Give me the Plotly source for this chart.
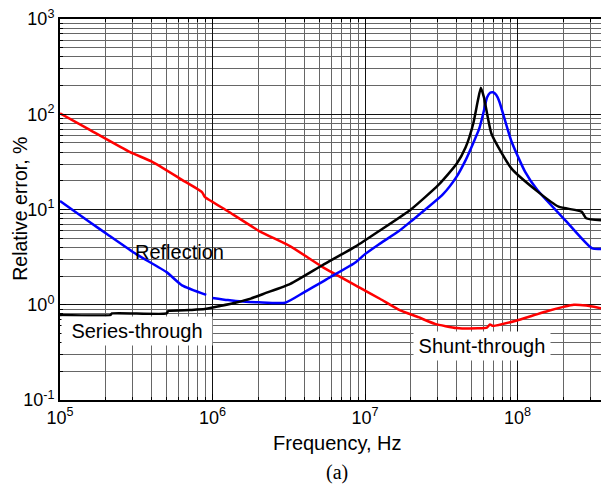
import plotly.graph_objects as go

# Shunt-through (red)
shunt_f = [1e5, 1.58e5, 2.88e5, 3.98e5, 6.31e5, 8.5e5, 8.7e5, 8.9e5, 1.26e6, 2.04e6,
           3.24e6, 5.25e6, 9.55e6, 1.26e7, 1.66e7, 2.24e7, 2.88e7, 3.98e7, 5.5e7, 6.3e7,
           6.6e7, 6.9e7, 9.77e7, 1.26e8, 1.58e8, 2.0e8, 2.34e8, 2.82e8, 3.39e8, 4.0e8]
shunt_v = [102, 68, 40, 32, 20.5, 15.3, 14.5, 13.6, 9.6, 5.9,
           4.1, 2.5, 1.47, 1.15, 0.89, 0.74, 0.63, 0.57, 0.565, 0.575,
           0.62, 0.6, 0.68, 0.77, 0.86, 0.95, 1.0, 0.98, 0.93, 0.88]

# Reflection (blue) - two segments separated by a gap
refl_f = [1e5, 1.58e5, 2.04e5, 3.16e5, 5.0e5, 6.31e5, 9.1e5, None,
          1.0e6, 1.26e6, 1.58e6, 2.0e6, 3.0e6, 3.98e6, 5.25e6, 5.75e6, 8.7e6, 1.0e7,
          1.23e7, 1.66e7, 2.0e7, 3.24e7, 3.98e7, 4.57e7, 5.13e7, 5.62e7, 6.03e7, 6.31e7,
          6.61e7, 6.92e7, 7.24e7, 7.59e7, 9.12e7, 1.12e8, 1.35e8, 2.09e8, 3.09e8, 4.0e8]
refl_v = [12.3, 7.3, 5.5, 3.4, 2.2, 1.6, 1.27, None,
          1.18, 1.12, 1.08, 1.06, 1.05, 1.35, 1.74, 1.9, 2.8, 3.4,
          4.3, 5.9, 7.5, 14.4, 22, 33, 50, 71, 110, 150,
          168, 170, 160, 137, 52, 25, 16, 7.5, 3.9, 3.9]

# Series-through (black)
series_f = [1e5, 2.14e5, 2.19e5, 5.0e5, 5.13e5, 7.08e5, 8.9e5, 1.12e6, 1.41e6, 1.78e6,
            2.24e6, 3.24e6, 5.25e6, 8.7e6, 1.23e7, 2.0e7, 3.02e7, 3.98e7, 4.57e7, 5.13e7,
            5.5e7, 5.75e7, 6.03e7, 6.76e7, 9.12e7, 1.35e8, 1.86e8, 2.63e8, 2.82e8, 4.0e8]
series_v = [0.78, 0.78, 0.81, 0.81, 0.86, 0.88, 0.9, 0.97, 1.05, 1.16,
            1.33, 1.66, 2.6, 4.1, 5.9, 10, 18, 30, 45, 80,
            140, 190, 150, 62, 27, 15.5, 10.7, 9.5, 8.1, 7.6]

x_tickvals = [1e5, 1e6, 1e7, 1e8]
x_ticktext = ["10<sup>5</sup>", "10<sup>6</sup>", "10<sup>7</sup>", "10<sup>8</sup>"]
y_tickvals = [0.1, 1, 10, 100, 1000]
y_ticktext = ["10<sup>-1</sup>", "10<sup>0</sup>", "10<sup>1</sup>", "10<sup>2</sup>", "10<sup>3</sup>"]

FONT = "Arial, Liberation Sans, sans-serif"

fig = go.Figure()
line_shape = dict(shape="spline", smoothing=0.5)
fig.add_trace(go.Scatter(x=shunt_f, y=shunt_v, mode="lines",
                         line=dict(color="#ff0000", width=2.5, **line_shape)))
fig.add_trace(go.Scatter(x=refl_f, y=refl_v, mode="lines", connectgaps=False,
                         line=dict(color="#0000ff", width=2.5, **line_shape)))
fig.add_trace(go.Scatter(x=series_f, y=series_v, mode="lines",
                         line=dict(color="#000000", width=2.5, **line_shape)))

axis_common = dict(
    type="log", tickmode="array", automargin=False, ticklabeloverflow="allow",
    showgrid=True, gridcolor="#111111", gridwidth=1,
    ticks="inside", ticklen=6, tickcolor="black", tickwidth=1,
    showline=True, linecolor="black", linewidth=2, mirror="allticks",
    zeroline=False,
    tickfont=dict(family=FONT, size=18, color="black"),
    minor=dict(dtick="D1", ticks="inside", ticklen=3, tickcolor="black",
               showgrid=True, gridcolor="#666666", gridwidth=1),
)

fig.update_xaxes(range=[5, 8.6], tickvals=x_tickvals, ticktext=x_ticktext, **axis_common)
fig.update_yaxes(range=[-1, 3], tickvals=y_tickvals, ticktext=y_ticktext, **axis_common)

def ann(text, x, y, size=20, family=FONT, **kw):
    return dict(text=text, x=x, y=y, xref="paper", yref="paper",
                xanchor="center", yanchor="middle", showarrow=False,
                font=dict(family=family, size=size, color="black"), **kw)

annotations = [
    ann("Reflection", 0.217, 0.388),
    ann("Series-through", 0.140, 0.181, bgcolor="white", width=148, height=26),
    ann("Shunt-through", 0.769, 0.142, bgcolor="white", width=134, height=26),
    ann("Relative error, %", -0.0735, 0.501, size=19.5, textangle=-90),
    ann("Frequency, Hz", 0.5046, -0.113),
    ann("(a)", 0.5046, -0.189, size=20, family="Liberation Serif, Times New Roman, serif"),
]

# The page body adds an 8px offset, so the figure is sized to fill the
# remaining 601x482 area of the 609x490 window.
fig.update_layout(
    width=601, height=482,
    margin=dict(l=52, r=0, t=11, b=90, autoexpand=False),
    paper_bgcolor="white", plot_bgcolor="white",
    showlegend=False,
    annotations=annotations,
)

fig.write_html("out.html")
